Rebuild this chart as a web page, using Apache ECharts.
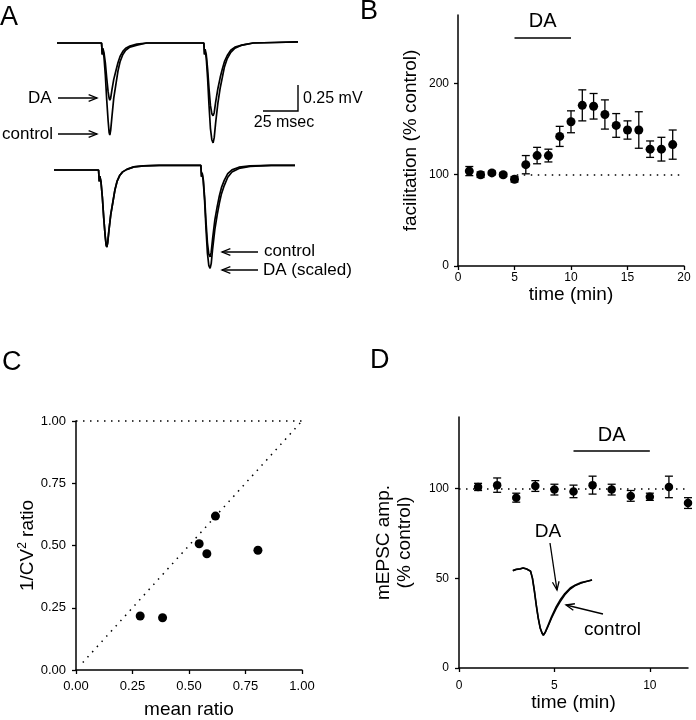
<!DOCTYPE html>
<html>
<head>
<meta charset="utf-8">
<script src="https://cdn.jsdelivr.net/npm/echarts@6/dist/echarts.min.js"></script>
<style>
  html, body { margin: 0; padding: 0; background: #fff; }
  #fig { width: 696px; height: 720px; }
</style>
</head>
<body>
<div id="fig"></div>
<script>
// ---- panel A: paired-pulse traces (time in ms, amplitude in mV) ----
const aT = [0, 10, 20, 31.8, 32, 32.3, 32.7, 33.5, 34.5, 35.5, 36.5, 37.2, 37.7, 38.3, 39.2, 40.5, 42, 43.5, 45, 47,
  49, 52, 57, 64, 75, 90, 104.8, 105, 105.3, 105.7, 106.5, 107.5, 108.5, 109.5, 110.5, 111.4, 112.2, 113.2, 114.8, 116.5,
  118, 119.5, 121.5, 124, 127, 132, 140, 155, 172];
const aTopControl = [0, 0, 0, 0, 0, -0.11,
  -0.07, -0.13, -0.31, -0.55, -0.75, -0.86, -0.885, -0.84, -0.71, -0.53, -0.40, -0.27, -0.18, -0.11, -0.07, -0.04, -0.02, 0, 0, 0, 0, 0,
  -0.11,
  -0.08, -0.14, -0.34, -0.60, -0.82, -0.93, -0.96, -0.91, -0.77, -0.58, -0.43, -0.33, -0.23, -0.15, -0.09, -0.05, -0.02, 0, 0.005, 0.01];
const aTopDA = [0, 0, 0, 0, 0, -0.11,
  -0.05, -0.09, -0.19, -0.34, -0.47, -0.53, -0.55, -0.53, -0.45, -0.35, -0.27, -0.19, -0.13, -0.08, -0.05, -0.03, -0.01, 0, 0, 0, 0, 0,
  -0.11,
  -0.06, -0.11, -0.25, -0.44, -0.60, -0.68, -0.70, -0.67, -0.57, -0.44, -0.33, -0.25, -0.18, -0.12, -0.07, -0.04, -0.02, 0, 0.005, 0.01];
const aBotControl = [0, 0, 0, 0, 0, -0.11,
  -0.06, -0.11, -0.26, -0.46, -0.63, -0.72, -0.74, -0.70, -0.58, -0.43, -0.31, -0.19, -0.11, -0.05, -0.018, 0.006, 0.03, 0.04, 0.045, 0.045, 0.045, 0.045,
  -0.065,
  -0.025, -0.087, -0.26, -0.50, -0.70, -0.81, -0.835, -0.79, -0.66, -0.48, -0.35, -0.25, -0.17, -0.10, -0.034, 0.001, 0.027, 0.04, 0.045, 0.045];
const aBotDA = [0, 0, 0, 0, 0, -0.11,
  -0.06, -0.11, -0.26, -0.46, -0.63, -0.72, -0.74, -0.70, -0.58, -0.43, -0.31, -0.19, -0.11, -0.05, -0.018, 0.006, 0.03, 0.04, 0.045, 0.045, 0.045, 0.045,
  -0.065,
  -0.035, -0.10, -0.30, -0.57, -0.80, -0.92, -0.945, -0.90, -0.76, -0.57, -0.43, -0.32, -0.23, -0.15, -0.07, -0.02, 0.015, 0.035, 0.045, 0.045];

// ---- panel B: facilitation (% control) vs time (min) ----
const bTime = [1, 2, 3, 4, 5, 6, 7, 8, 9, 10, 11, 12, 13, 14, 15, 16, 17, 18, 19];
const bMean = [104, 100, 102, 100, 95, 111, 121, 121, 142, 158, 176, 175, 166, 154, 149, 149, 128, 128, 133];
const bErr = [5, 3, 2, 2, 3, 10, 9, 7, 11, 12, 17, 14, 16, 13, 10, 20, 9, 13, 16];
const bDrug = [5, 10];      // DA application (min)
const bDrugLevel = 250;
const bTicksX = [0, 5, 10, 15, 20];
const bTicksY = [0, 100, 200];

// ---- panel C: 1/CV^2 ratio vs mean ratio ----
const cMean = [0.284, 0.383, 0.545, 0.579, 0.617, 0.805];
const cCV = [0.217, 0.210, 0.507, 0.467, 0.618, 0.481];

// ---- panel D: mEPSC amplitude (% control) vs time (min) ----
const dTime = [1, 2, 3, 4, 5, 6, 7, 8, 9, 10, 11, 12];
const dMean = [101, 102, 95, 101.5, 99.5, 98.5, 102, 99.5, 96, 95.5, 101, 92];
const dErr = [2, 4, 2.5, 3, 3, 3.5, 5, 3, 3, 2, 6, 3];
const dDrug = [6, 10];
const dDrugLevel = 121;
const dTicksX = [0, 5, 10];
const dTicksY = [0, 50, 100];
// inset mEPSC traces, drawn in the panel's own units
const dInsetT = [2.82, 3.0, 3.2, 3.36, 3.55, 3.75, 3.85, 3.95, 4.05, 4.15, 4.25, 4.35, 4.42, 4.52, 4.67, 4.85, 5.1, 5.3, 5.55, 5.83, 6.1, 6.4, 6.7, 6.97];
const dInsetControl = [54.3, 55.0, 55.3, 55.8, 55.2, 54.0, 50.0, 43.0, 35.0, 28.0, 22.5, 19.5, 18.3, 20.0, 23.8, 28.5, 34.2, 37.9, 41.5, 44.6, 46.3, 47.6, 48.4, 49.1];
const dInsetDA = [54.3, 55.0, 55.3, 55.8, 55.2, 54.0, 50.0, 43.0, 35.0, 28.0, 22.5, 19.5, 18.3, 19.8, 23.3, 27.8, 33.2, 36.9, 40.8, 44.0, 46.0, 47.4, 48.3, 49.1];

const FONT = 'Liberation Sans, Arial, Helvetica, sans-serif';
const zip = (xs, ys) => xs.map((x, i) => [x, ys[i]]);
const bars = (xs, m, e) => xs.map((x, i) => [x, m[i] - e[i], m[i] + e[i]]);

const axisBase = (extra) => Object.assign({
  axisLine: { show: true, onZero: false, lineStyle: { color: '#000', width: 1.5 } },
  axisTick: { show: true, inside: false, length: 4, lineStyle: { color: '#000', width: 1.3 } },
  axisLabel: { color: '#000', fontSize: 12, fontFamily: FONT },
  splitLine: { show: false },
  nameLocation: 'middle',
  nameTextStyle: { color: '#000', fontSize: 19, fontFamily: FONT }
}, extra);

function errorBars(axisIdx, data) {
  return {
    type: 'custom', xAxisIndex: axisIdx, yAxisIndex: axisIdx, data: data, z: 1,
    renderItem: function (params, api) {
      const lo = api.coord([api.value(0), api.value(1)]);
      const hi = api.coord([api.value(0), api.value(2)]);
      const w = 4, st = { stroke: '#000', lineWidth: 1.3 };
      return { type: 'group', children: [
        { type: 'line', shape: { x1: lo[0], y1: lo[1], x2: hi[0], y2: hi[1] }, style: st },
        { type: 'line', shape: { x1: hi[0] - w, y1: hi[1], x2: hi[0] + w, y2: hi[1] }, style: st },
        { type: 'line', shape: { x1: lo[0] - w, y1: lo[1], x2: lo[0] + w, y2: lo[1] }, style: st }
      ] };
    }
  };
}

function trace(axisIdx, ys) {
  return { type: 'line', xAxisIndex: axisIdx, yAxisIndex: axisIdx, data: zip(aT, ys), showSymbol: false,
    lineStyle: { color: '#000', width: 1.7 }, z: 3 };
}

function arrow(x1, y1, x2, y2) {
  const a = Math.atan2(y2 - y1, x2 - x1), h = 9, s = 0.38;
  const st = { stroke: '#000', lineWidth: 1.3, fill: null };
  return { type: 'group', children: [
    { type: 'line', shape: { x1: x1, y1: y1, x2: x2, y2: y2 }, style: st },
    { type: 'polyline', shape: { points: [[x2 - h * Math.cos(a - s), y2 - h * Math.sin(a - s)], [x2, y2],
      [x2 - h * Math.cos(a + s), y2 - h * Math.sin(a + s)]] }, style: st }
  ] };
}
function txt(x, y, s, size, align) {
  return { type: 'text', x: x, y: y, style: { text: s, font: size + 'px ' + FONT, fill: '#000',
    align: align || 'left', verticalAlign: 'middle' } };
}

const dotted = { color: '#000', type: [1.5, 5.5], width: 1.5 };
const solid = { color: '#000', type: 'solid', width: 1.5 };
const dot = { color: '#000', opacity: 1 };

const chart = echarts.init(document.getElementById('fig'), null, { renderer: 'canvas' });
chart.setOption({
  backgroundColor: '#fff',
  animation: false,
  grid: [
    { left: 57, top: 32.6, width: 241, height: 135.2 },
    { left: 54, top: 159.6, width: 241, height: 135.2 },
    { left: 458, top: 15, width: 226, height: 251 },
    { left: 76, top: 421, width: 226, height: 249 },
    { left: 459, top: 417, width: 229, height: 251 }
  ],
  xAxis: [
    { gridIndex: 0, type: 'value', min: 0, max: 172, show: false },
    { gridIndex: 1, type: 'value', min: 0, max: 172, show: false },
    axisBase({ gridIndex: 2, type: 'value', min: 0, max: 20, interval: 5, name: 'time (min)', nameGap: 19,
      axisLabel: { color: '#000', fontSize: 12, fontFamily: FONT, margin: 6, customValues: bTicksX },
      axisTick: { show: true, length: 4, lineStyle: { color: '#000', width: 1.3 }, customValues: bTicksX } }),
    axisBase({ gridIndex: 3, type: 'value', min: 0, max: 1, interval: 0.25, name: 'mean ratio', nameGap: 30,
      axisLabel: { color: '#000', fontSize: 13, fontFamily: FONT, margin: 10, formatter: v => v.toFixed(2) } }),
    axisBase({ gridIndex: 4, type: 'value', min: 0, max: 12, interval: 5, name: 'time (min)', nameGap: 25,
      axisLabel: { color: '#000', fontSize: 12, fontFamily: FONT, margin: 12, customValues: dTicksX },
      axisTick: { show: true, length: 4, lineStyle: { color: '#000', width: 1.3 }, customValues: dTicksX } })
  ],
  yAxis: [
    { gridIndex: 0, type: 'value', min: -1.2, max: 0.1, show: false },
    { gridIndex: 1, type: 'value', min: -1.2, max: 0.1, show: false },
    axisBase({ gridIndex: 2, type: 'value', min: 0, max: 275, interval: 100, name: 'facilitation (% control)', nameGap: 38,
      axisLabel: { color: '#000', fontSize: 12, fontFamily: FONT, margin: 9, customValues: bTicksY },
      axisTick: { show: true, length: 4, lineStyle: { color: '#000', width: 1.3 }, customValues: bTicksY } }),
    axisBase({ gridIndex: 3, type: 'value', min: 0, max: 1, interval: 0.25, name: '1/CV{sup|2} ratio', nameGap: 38,
      axisLabel: { color: '#000', fontSize: 13, fontFamily: FONT, margin: 10, formatter: v => v.toFixed(2) },
      nameTextStyle: { color: '#000', fontSize: 19, fontFamily: FONT,
        rich: { sup: { fontSize: 12, fontFamily: FONT, color: '#000', verticalAlign: 'top', padding: [0, 0, 9, 0] } } } }),
    axisBase({ gridIndex: 4, type: 'value', min: 0, max: 140, interval: 50, name: 'mEPSC amp.\n(% control)', nameGap: 44,
      axisLabel: { color: '#000', fontSize: 12, fontFamily: FONT, margin: 10, customValues: dTicksY },
      axisTick: { show: true, length: 4, lineStyle: { color: '#000', width: 1.3 }, customValues: dTicksY },
      nameTextStyle: { color: '#000', fontSize: 19, fontFamily: FONT, lineHeight: 21 } })
  ],
  series: [
    trace(0, aTopControl), trace(0, aTopDA),
    trace(1, aBotControl), trace(1, aBotDA),

    errorBars(2, bars(bTime, bMean, bErr)),
    { type: 'scatter', xAxisIndex: 2, yAxisIndex: 2, data: zip(bTime, bMean), symbolSize: 9,
      itemStyle: dot, z: 2,
      markLine: { silent: true, symbol: 'none', animation: false, lineStyle: dotted, label: { show: false },
        data: [
          [{ coord: [5.2, 100] }, { coord: [20, 100] }],
          [{ coord: [bDrug[0], bDrugLevel], lineStyle: solid,
             label: { show: true, formatter: 'DA', position: 'insideMiddleTop', distance: 6, color: '#000', fontSize: 20, fontFamily: FONT } },
           { coord: [bDrug[1], bDrugLevel] }]
        ] } },

    { type: 'scatter', xAxisIndex: 3, yAxisIndex: 3, data: zip(cMean, cCV), symbolSize: 9,
      itemStyle: dot, z: 2,
      markLine: { silent: true, symbol: 'none', animation: false, lineStyle: dotted, label: { show: false },
        data: [
          [{ coord: [0, 1] }, { coord: [1, 1] }],
          [{ coord: [0.03, 0.03] }, { coord: [1, 1] }]
        ] } },

    errorBars(4, bars(dTime, dMean, dErr)),
    { type: 'scatter', xAxisIndex: 4, yAxisIndex: 4, data: zip(dTime, dMean), symbolSize: 8.5,
      itemStyle: dot, z: 2,
      markLine: { silent: true, symbol: 'none', animation: false, lineStyle: dotted, label: { show: false },
        data: [
          [{ coord: [0, 100] }, { coord: [12, 100] }],
          [{ coord: [dDrug[0], dDrugLevel], lineStyle: solid,
             label: { show: true, formatter: 'DA', position: 'insideMiddleTop', distance: 6, color: '#000', fontSize: 20, fontFamily: FONT } },
           { coord: [dDrug[1], dDrugLevel] }]
        ] } },
    { type: 'line', xAxisIndex: 4, yAxisIndex: 4, data: zip(dInsetT, dInsetControl), showSymbol: false,
      lineStyle: { color: '#000', width: 1.7 }, z: 3 },
    { type: 'line', xAxisIndex: 4, yAxisIndex: 4, data: zip(dInsetT, dInsetDA), showSymbol: false,
      lineStyle: { color: '#000', width: 1.4 }, z: 3 }
  ],
  graphic: { elements: [
    txt(0, 18, 'A', 27), txt(360, 12, 'B', 27), txt(2, 363, 'C', 27), txt(370, 361, 'D', 27),
    // panel A labels and scale bar
    txt(28, 98, 'DA', 17), arrow(58, 98, 97, 98),
    txt(2, 134, 'control', 17), arrow(58, 134, 97, 134),
    txt(264, 251, 'control', 17), arrow(258, 252, 222, 252),
    txt(263, 270, 'DA (scaled)', 17), arrow(258, 270, 222, 270),
    { type: 'polyline', shape: { points: [[263, 111], [298, 111], [298, 85]] }, style: { stroke: '#000', lineWidth: 1.4, fill: null } },
    txt(303, 99, '0.25 mV', 16), txt(284, 123, '25 msec', 16, 'center'),
    // panel D inset labels
    txt(548, 532, 'DA', 19, 'center'), arrow(550, 543, 557, 590),
    txt(584, 630, 'control', 19), arrow(603, 614, 566, 605)
  ] }
});
</script>
</body>
</html>
